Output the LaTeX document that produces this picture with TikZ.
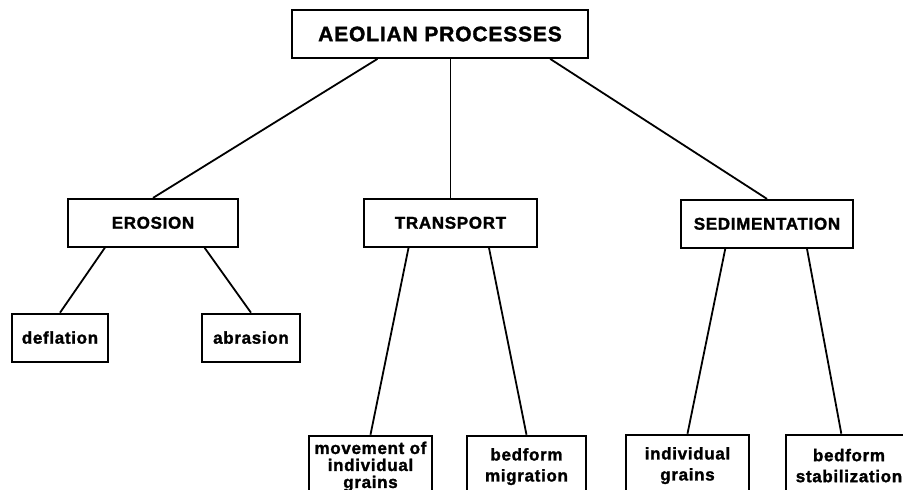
\documentclass[tikz,border=0pt]{standalone}
\usepackage{fontspec}
\newfontfamily\boxfont{Liberation Sans}[LetterSpace=4, BoldFeatures={FakeBold=1.6}]
\usetikzlibrary{positioning,calc}

\begin{document}
\begin{tikzpicture}[
    x=1pt, y=1pt,
    proc/.style={draw, line width=1.8pt, minimum height=48pt, inner sep=2pt, align=center, font=\boxfont\bfseries\fontsize{17}{21}\selectfont},
    leaf/.style={proc, minimum height=62pt},
    link/.style={line width=1.8pt}
]
    \clip (0,0) rectangle (903,-490);

    % Top
    \node[proc, minimum width=296pt, font=\boxfont\bfseries\fontsize{21}{23}\selectfont] (aeolian) at (440,-34) {AEOLIAN PROCESSES};

    % Processes
    \node[proc, minimum width=170pt, below=139pt of aeolian, xshift=-287pt] (erosion) {EROSION};
    \node[proc, minimum width=173pt, below=139pt of aeolian, xshift=10.5pt] (transport) {TRANSPORT};
    \node[proc, minimum width=172pt, below=140pt of aeolian, xshift=327pt] (sedim) {SEDIMENTATION};

    % Erosion
    \node[proc, minimum width=96pt, below=65pt of erosion, xshift=-93pt] (deflation) {deflation};
    \node[proc, minimum width=98pt, below=65pt of erosion, xshift=98pt] (abrasion) {abrasion};

    % Transport
    \node[leaf, minimum width=123pt, below=187pt of transport, xshift=-80pt, font=\boxfont\bfseries\fontsize{17}{17}\selectfont] (movement) {movement of\\individual\\grains};
    \node[leaf, minimum width=119pt, below=187pt of transport, xshift=76pt] (migration) {bedform\\migration};

    % Sedimentation
    \node[leaf, minimum width=123pt, below=185pt of sedim, xshift=-79.5pt] (grains) {individual\\grains};
    \node[leaf, minimum width=126pt, below=185pt of sedim, xshift=82pt] (stabil) {bedform\\stabilization};

    % Links
    \draw[link] ($(aeolian.south west)!0.29!(aeolian.south east)$) -- (erosion.north);
    \draw[link] (transport.north |- aeolian.south) -- (transport.north);
    \draw[link] ($(aeolian.south west)!0.87!(aeolian.south east)$) -- (sedim.north);
    \draw[link] ($(erosion.south west)!0.22!(erosion.south east)$) -- (deflation.north);
    \draw[link] ($(erosion.south west)!0.8!(erosion.south east)$) -- (abrasion.north);
    \draw[link] ($(transport.south west)!0.26!(transport.south east)$) -- (movement.north);
    \draw[link] ($(transport.south west)!0.72!(transport.south east)$) -- (migration.north);
    \draw[link] ($(sedim.south west)!0.26!(sedim.south east)$) -- (grains.north);
    \draw[link] ($(sedim.south west)!0.73!(sedim.south east)$) -- ($(stabil.north west)!0.44!(stabil.north east)$);
\end{tikzpicture}
\end{document}
